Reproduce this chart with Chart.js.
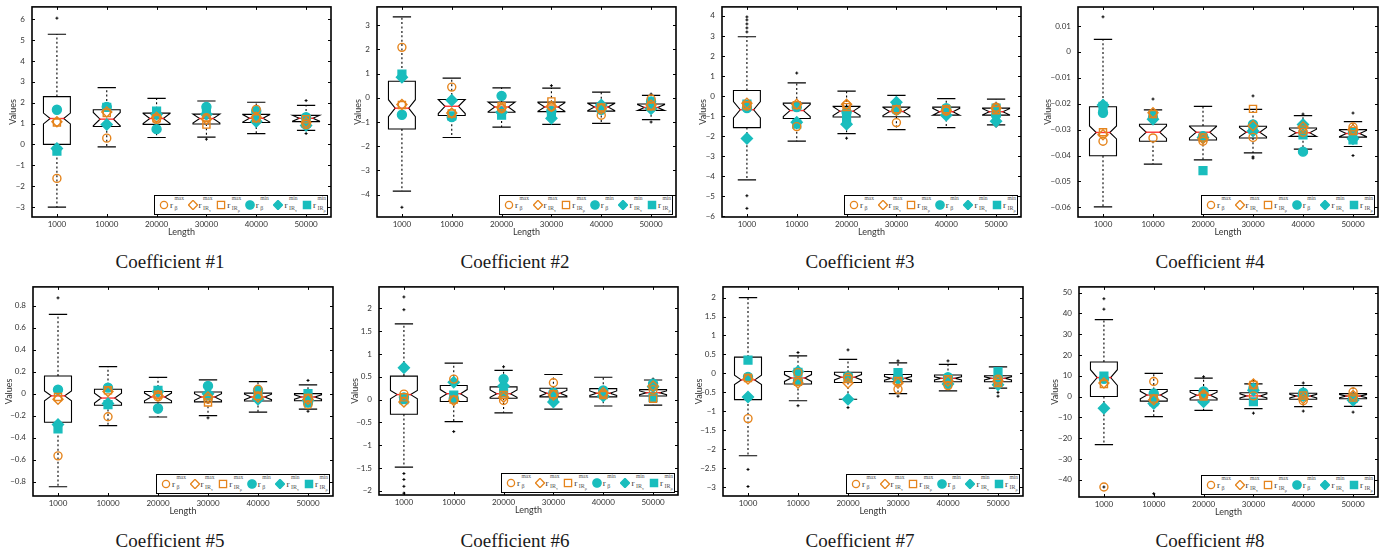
<!DOCTYPE html>
<html><head><meta charset="utf-8">
<script src="https://cdn.jsdelivr.net/npm/chart.js@4.4.1/dist/chart.umd.min.js"></script>
<style>
html,body{margin:0;padding:0;background:#fff;}
body{width:1385px;height:554px;position:relative;overflow:hidden;}
canvas{position:absolute;}
.title{position:absolute;transform:translate(-50%,-50%);font-family:'Liberation Serif','DejaVu Serif',serif;font-size:19px;color:#1a1a1a;white-space:nowrap;}
.legend{position:absolute;box-sizing:border-box;width:174px;height:20px;border:1.4px solid #000;background:#fff;}
.item{position:absolute;top:0;height:17px;}
.item svg{position:absolute;left:0;top:4px;}
.r{position:absolute;left:11px;top:3.5px;font-family:'Liberation Serif',serif;font-size:9px;color:#333;}
.sup{position:absolute;left:15.5px;top:-1px;font-family:'Liberation Serif',serif;font-size:5.5px;color:#555;}
.sub{position:absolute;left:15.5px;top:8.5px;font-family:'Liberation Serif',serif;font-size:6px;color:#555;white-space:nowrap;}
.sub i{font-style:normal;font-size:4.5px;position:relative;top:2.5px;}
</style></head><body>
<script>
// ---------------- data ----------------
const LENGTHS = ['1000','10000','20000','30000','40000','50000'];
const COEFFICIENTS = ['Coefficient #1','Coefficient #2','Coefficient #3','Coefficient #4','Coefficient #5','Coefficient #6','Coefficient #7','Coefficient #8'];

const Y_MIN = [-3.48, -4.92, -6.03, -0.0637, -0.93, -2.09, -3.23, -48.3];
const Y_MAX = [6.59, 3.75, 4.45, 0.0173, 0.97, 2.47, 2.28, 52.7];
const Y_TICKS = [
  [-3,-2,-1,0,1,2,3,4,5,6],
  [-4,-3,-2,-1,0,1,2,3],
  [-6,-5,-4,-3,-2,-1,0,1,2,3,4],
  [-0.06,-0.05,-0.04,-0.03,-0.02,-0.01,0,0.01],
  [-0.8,-0.6,-0.4,-0.2,0,0.2,0.4,0.6,0.8],
  [-2,-1.5,-1,-0.5,0,0.5,1,1.5,2],
  [-3,-2.5,-2,-1.5,-1,-0.5,0,0.5,1,1.5,2],
  [-40,-30,-20,-10,0,10,20,30,40,50]
];

const WHISKER_LOW = [
  [-3.01,-0.12,0.33,0.35,0.52,0.67],
  [-3.85,-1.64,-1.21,-1.10,-1.06,-0.90],
  [-4.18,-2.25,-1.87,-1.67,-1.57,-1.43],
  [-0.0598,-0.0433,-0.0417,-0.0390,-0.0375,-0.0365],
  [-0.846,-0.29,-0.212,-0.20,-0.168,-0.14],
  [-1.48,-0.48,-0.29,-0.21,-0.14,-0.12],
  [-2.17,-0.72,-0.68,-0.53,-0.46,-0.39],
  [-23.1,-9.7,-6.7,-5.8,-4.9,-4.7]
];
const Q1 = [
  [0.0,0.86,0.96,0.98,1.05,1.09],
  [-1.29,-0.73,-0.60,-0.57,-0.55,-0.52],
  [-1.57,-1.12,-1.04,-1.03,-0.95,-0.95],
  [-0.0401,-0.0345,-0.0340,-0.0332,-0.0326,-0.0329],
  [-0.26,-0.105,-0.083,-0.075,-0.067,-0.065],
  [-0.32,-0.04,0.03,0.06,0.06,0.08],
  [-0.69,-0.28,-0.24,-0.22,-0.22,-0.22],
  [0.0,-2.2,-1.7,-1.3,-1.3,-1.1]
];
const MEDIAN = [
  [1.24,1.21,1.24,1.24,1.25,1.25],
  [-0.43,-0.35,-0.38,-0.38,-0.38,-0.40],
  [-0.68,-0.72,-0.75,-0.77,-0.78,-0.78],
  [-0.0311,-0.0310,-0.0310,-0.0310,-0.0312,-0.0315],
  [-0.02,-0.04,-0.03,-0.03,-0.03,-0.03],
  [0.11,0.13,0.13,0.14,0.14,0.15],
  [-0.17,-0.12,-0.10,-0.13,-0.13,-0.13],
  [9.1,0.7,0.6,0.3,0.2,0.2]
];
const Q3 = [
  [2.29,1.66,1.50,1.45,1.44,1.39],
  [0.68,-0.07,-0.18,-0.18,-0.22,-0.26],
  [0.28,-0.35,-0.51,-0.55,-0.55,-0.60],
  [-0.0212,-0.0279,-0.0286,-0.0287,-0.0294,-0.0300],
  [0.16,0.04,0.02,0.015,0.005,0.0],
  [0.515,0.31,0.28,0.25,0.24,0.22],
  [0.43,0.05,0.03,-0.03,-0.04,-0.06],
  [16.6,3.4,2.9,1.8,1.6,1.4]
];
const WHISKER_HIGH = [
  [5.28,2.72,2.21,2.08,2.02,1.87],
  [3.34,0.81,0.41,0.40,0.23,0.10],
  [2.96,0.66,0.25,0.04,-0.13,-0.15],
  [0.0048,-0.0224,-0.0210,-0.0222,-0.0246,-0.0269],
  [0.72,0.245,0.148,0.125,0.11,0.08],
  [1.66,0.80,0.64,0.55,0.49,0.43],
  [2.00,0.46,0.37,0.28,0.24,0.17],
  [37.0,11.1,8.8,6.1,5.3,5.2]
];
const NOTCH = [
  [0.26,0.32,0.24,0.22,0.18,0.14],
  [0.35,0.30,0.20,0.18,0.15,0.12],
  [0.41,0.30,0.22,0.20,0.17,0.15],
  [0.0025,0.0024,0.0022,0.0018,0.0014,0.0012],
  [0.045,0.045,0.035,0.03,0.025,0.02],
  [0.09,0.09,0.08,0.06,0.05,0.04],
  [0.12,0.09,0.07,0.05,0.04,0.04],
  [3.8,1.8,1.5,1.0,0.9,0.8]
];
const OUTLIERS = [
  [[6.05],[],[],[0.25],[],[2.1,0.52]],
  [[-4.52],[],[],[0.5],[],[0.15,-1.0]],
  [[3.2,3.4,3.6,3.8,3.95,-4.97,-5.6],[1.15],[-2.1],[],[],[-1.5]],
  [[0.0135],[-0.0182],[],[-0.017,-0.0405,-0.041],[-0.024],[-0.0236,-0.040]],
  [[0.87],[],[],[-0.22],[],[0.12,-0.16]],
  [[1.97,2.25,-1.62,-1.75,-1.9,-2.05],[-0.7],[0.72],[],[],[0.45]],
  [[-2.53,-2.98],[0.55,-0.85],[0.62,-0.9],[0.33,-0.6],[0.33],[-0.5,-0.6]],
  [[42,47,-43.5],[-46.7],[9.5],[7.5,-8],[6.5,-7],[-7.5]]
];

// six marker series: r_beta^max, r_IRtau^max, r_IRrho^max, r_beta^min, r_IRtau^min, r_IRrho^min
const R_BETA_MAX = [
  [-1.63,0.30,1.20,1.28,1.68,0.95],
  [2.08,0.44,-0.45,-0.38,-0.72,-0.05],
  [-0.50,-1.52,-0.45,-1.32,-0.75,-0.55],
  [-0.0345,-0.0332,-0.0345,-0.0330,-0.0310,-0.0290],
  [-0.565,-0.21,-0.03,-0.05,0.04,-0.10],
  [0.12,0.45,-0.02,0.37,0.12,0.22],
  [-1.19,0.02,-0.10,-0.42,-0.32,-0.15],
  [-43.5,7.2,0.5,0.3,-2.0,2.2]
];
const R_IRTAU_MAX = [
  [1.08,1.55,1.30,1.20,1.30,1.05],
  [-0.28,-0.63,-0.40,-0.35,-0.45,-0.30],
  [-0.35,-0.40,-0.40,-0.70,-0.70,-0.60],
  [-0.0320,-0.0235,-0.0335,-0.0285,-0.0290,-0.0300],
  [-0.05,0.02,-0.02,-0.03,-0.03,-0.05],
  [-0.05,-0.02,0.05,0.10,0.15,0.30],
  [-0.15,-0.25,-0.25,-0.25,-0.20,-0.20],
  [6.5,-1.5,1.0,6.0,-1.0,0.5]
];
const R_IRRHO_MAX = [
  [1.05,1.50,1.25,0.95,1.25,1.20],
  [-0.30,-0.65,-0.35,-0.15,-0.40,-0.35],
  [-0.45,-0.45,-0.55,-0.65,-0.65,-0.70],
  [-0.0310,-0.0240,-0.0330,-0.0220,-0.0300,-0.0305],
  [-0.03,0.03,-0.01,-0.08,-0.02,-0.04],
  [0.05,0.00,0.10,0.12,0.10,0.02],
  [-0.12,-0.22,-0.15,-0.20,-0.15,-0.25],
  [6.0,-1.0,0.0,5.5,0.5,-0.5]
];
const R_BETA_MIN = [
  [1.66,1.80,0.73,1.80,1.60,1.30],
  [-0.70,-0.80,0.08,-0.55,-0.50,-0.15],
  [-0.60,-0.55,-0.80,-0.70,-0.60,-0.95],
  [-0.0235,-0.0255,-0.0325,-0.0280,-0.0385,-0.0310],
  [0.035,0.055,-0.135,0.07,0.03,-0.08],
  [0.05,0.02,0.45,0.15,0.20,0.35],
  [-0.09,-0.20,-0.08,-0.10,-0.10,-0.12],
  [8.5,1.5,2.5,4.0,1.8,-1.0]
];
const R_IRTAU_MIN = [
  [-0.20,0.95,1.45,1.45,1.10,0.90],
  [0.85,-0.10,-0.60,-0.85,-0.30,-0.45],
  [-2.12,-1.30,-1.40,-0.30,-0.95,-1.25],
  [-0.0205,-0.0260,-0.0330,-0.0305,-0.0280,-0.0335],
  [-0.28,-0.09,0.02,0.0,-0.05,-0.06],
  [0.70,0.38,0.30,-0.05,0.08,0.28],
  [-0.62,0.05,-0.68,-0.15,-0.28,-0.30],
  [-5.6,-3.3,-2.5,3.0,0.5,-1.8]
];
const R_IRRHO_MIN = [
  [-0.32,1.78,1.60,1.55,1.35,1.00],
  [0.98,-0.75,-0.72,-0.60,-0.40,-0.35],
  [-0.40,-1.40,-1.15,-0.50,-0.75,-0.60],
  [-0.0210,-0.0245,-0.0458,-0.0300,-0.0320,-0.0340],
  [-0.32,-0.10,0.03,-0.02,-0.01,0.0],
  [0.00,0.10,0.15,0.02,0.12,0.05],
  [0.35,0.03,-0.10,0.02,-0.15,0.05],
  [9.8,-2.5,1.5,-2.5,0.0,-0.8]
];

// ---------------- layout & style ----------------
const ORANGE = '#E5841C';
const CYAN = '#19BDBD';
const PANELS = [
  {col:0,row:0,w:345,plotL:32,plotR:331,plotT:6,plotB:217,valuesX:13.3,titleX:170,titleY:262},
  {col:345,row:0,w:345,plotL:377,plotR:676,plotT:6,plotB:217,valuesX:13.3,titleX:515,titleY:262},
  {col:690,row:0,w:345,plotL:722,plotR:1021,plotT:6,plotB:217,valuesX:13.3,titleX:860,titleY:262},
  {col:1035,row:0,w:350,plotL:1078,plotR:1378,plotT:7,plotB:217,valuesX:13.3,titleX:1210,titleY:262},
  {col:0,row:280,w:345,plotL:33,plotR:333,plotT:285,plotB:496,valuesX:9.3,titleX:170,titleY:541},
  {col:345,row:280,w:345,plotL:379,plotR:678,plotT:285,plotB:495,valuesX:10,titleX:515,titleY:541},
  {col:690,row:280,w:345,plotL:723,plotR:1023,plotT:285,plotB:496,valuesX:9.3,titleX:860,titleY:541},
  {col:1035,row:280,w:350,plotL:1079,plotR:1378,plotT:285,plotB:497,valuesX:20,titleX:1210,titleY:541}
];
const SERIES = [
  {label:'r_beta^max', src:R_BETA_MAX, style:'circle', fill:false, r:4},
  {label:'r_IRtau^max', src:R_IRTAU_MAX, style:'rectRot', fill:false, r:5},
  {label:'r_IRrho^max', src:R_IRRHO_MAX, style:'rect', fill:false, r:5},
  {label:'r_beta^min', src:R_BETA_MIN, style:'circle', fill:true, r:4.5},
  {label:'r_IRtau^min', src:R_IRTAU_MIN, style:'rectRot', fill:true, r:5.5},
  {label:'r_IRrho^min', src:R_IRRHO_MIN, style:'rect', fill:true, r:5.5}
];
const LEGEND_ITEMS = [
  {shape:'circle', fill:false, sup:'max', sub:'β', subsub:''},
  {shape:'diamond', fill:false, sup:'max', sub:'IR', subsub:'τ'},
  {shape:'square', fill:false, sup:'max', sub:'IR', subsub:'ρ'},
  {shape:'circle', fill:true, sup:'min', sub:'β', subsub:''},
  {shape:'diamond', fill:true, sup:'min', sub:'IR', subsub:'τ'},
  {shape:'square', fill:true, sup:'min', sub:'IR', subsub:'ρ'}
];

Chart.defaults.font.family = 'Lato, "DejaVu Sans", sans-serif';

const notchBoxPlugin = {
  id: 'notchBox',
  beforeDatasetsDraw(chart) {
    const k = chart.options.plugins.notchBox.k;
    const xs = chart.scales.x, ys = chart.scales.y, ctx = chart.ctx;
    const step = xs.getPixelForValue(1) - xs.getPixelForValue(0);
    const hw = step * 0.27, nw = hw * 0.5, cw = hw * 0.68;
    ctx.save();
    for (let i = 0; i < LENGTHS.length; i++) {
      const cx = xs.getPixelForValue(i);
      const q1 = Q1[k][i], q3 = Q3[k][i], med = MEDIAN[k][i];
      const pQ1 = ys.getPixelForValue(q1), pQ3 = ys.getPixelForValue(q3), pMed = ys.getPixelForValue(med);
      const pLo = ys.getPixelForValue(WHISKER_LOW[k][i]), pHi = ys.getPixelForValue(WHISKER_HIGH[k][i]);
      const pNHi = ys.getPixelForValue(Math.min(med + NOTCH[k][i], q3));
      const pNLo = ys.getPixelForValue(Math.max(med - NOTCH[k][i], q1));
      ctx.strokeStyle = '#000';
      ctx.lineWidth = 1.1;
      ctx.setLineDash([2, 2.4]);
      ctx.beginPath();
      ctx.moveTo(cx, pQ3); ctx.lineTo(cx, pHi);
      ctx.moveTo(cx, pQ1); ctx.lineTo(cx, pLo);
      ctx.stroke();
      ctx.setLineDash([]);
      ctx.lineWidth = 1.2;
      ctx.beginPath();
      ctx.moveTo(cx - cw, pHi); ctx.lineTo(cx + cw, pHi);
      ctx.moveTo(cx - cw, pLo); ctx.lineTo(cx + cw, pLo);
      ctx.stroke();
      ctx.lineWidth = 1.1;
      ctx.beginPath();
      ctx.moveTo(cx - hw, pQ3); ctx.lineTo(cx + hw, pQ3);
      ctx.lineTo(cx + hw, pNHi); ctx.lineTo(cx + nw, pMed); ctx.lineTo(cx + hw, pNLo);
      ctx.lineTo(cx + hw, pQ1); ctx.lineTo(cx - hw, pQ1);
      ctx.lineTo(cx - hw, pNLo); ctx.lineTo(cx - nw, pMed); ctx.lineTo(cx - hw, pNHi);
      ctx.closePath();
      ctx.stroke();
      ctx.strokeStyle = 'rgba(255,30,30,0.9)';
      ctx.lineWidth = 1.4;
      ctx.beginPath(); ctx.moveTo(cx - nw - 1, pMed); ctx.lineTo(cx + nw + 1, pMed); ctx.stroke();
      ctx.strokeStyle = '#000';
      ctx.lineWidth = 1;
      for (const v of OUTLIERS[k][i]) {
        const py = ys.getPixelForValue(v);
        ctx.beginPath();
        ctx.moveTo(cx - 1.5, py); ctx.lineTo(cx + 1.5, py);
        ctx.moveTo(cx, py - 1.5); ctx.lineTo(cx, py + 1.5);
        ctx.stroke();
      }
    }
    ctx.restore();
  },
  afterDraw(chart) {
    const ctx = chart.ctx, a = chart.chartArea, xs = chart.scales.x, ys = chart.scales.y;
    ctx.save();
    ctx.strokeStyle = '#000';
    ctx.lineWidth = 1;
    ctx.beginPath();
    for (const t of ys.ticks) {
      const py = Math.round(ys.getPixelForValue(t.value)) + 0.5;
      ctx.moveTo(a.left, py); ctx.lineTo(a.left + 3, py);
      ctx.moveTo(a.right, py); ctx.lineTo(a.right - 3, py);
    }
    for (let i = 0; i < LENGTHS.length; i++) {
      const px = Math.round(xs.getPixelForValue(i)) + 0.5;
      ctx.moveTo(px, a.bottom); ctx.lineTo(px, a.bottom - 3);
      ctx.moveTo(px, a.top); ctx.lineTo(px, a.top + 3);
    }
    ctx.stroke();
    ctx.lineWidth = 1.6;
    ctx.strokeRect(a.left, a.top, a.right - a.left, a.bottom - a.top);
    ctx.restore();
  }
};

function fmt(v) {
  if (Math.abs(v) < 1e-12) return '0';
  return String(+v.toFixed(4)).replace('-', '\u2212');
}

function markerSvg(shape, fill) {
  const col = fill ? CYAN : ORANGE;
  const f = fill ? CYAN : 'none';
  let s = '';
  if (shape === 'circle') s = `<circle cx="5" cy="5" r="${fill ? 4.2 : 3.6}" fill="${f}" stroke="${col}" stroke-width="1.3"/>`;
  if (shape === 'diamond') s = `<polygon points="5,0.3 9.5,5 5,9.7 0.5,5" fill="${f}" stroke="${col}" stroke-width="1.3"/>`;
  if (shape === 'square') s = `<rect x="1.4" y="1.4" width="7.2" height="7.2" fill="${f}" stroke="${col}" stroke-width="1.3"/>`;
  return `<svg width="10" height="10" viewBox="0 0 10 10">${s}</svg>`;
}

PANELS.forEach((p, k) => {
  const cv = document.createElement('canvas');
  const h = p.plotB - p.row + 28;
  cv.width = p.w; cv.height = h;
  cv.style.left = p.col + 'px'; cv.style.top = p.row + 'px';
  cv.style.width = p.w + 'px'; cv.style.height = h + 'px';
  document.body.appendChild(cv);

  const yW = p.plotL - p.col;
  const xH = h - (p.plotB - p.row);
  new Chart(cv, {
    type: 'line',
    data: {
      labels: LENGTHS,
      datasets: SERIES.map(s => ({
        label: s.label,
        data: s.src[k],
        showLine: false,
        pointStyle: s.style,
        pointRadius: s.r,
        pointHoverRadius: s.r,
        pointBorderWidth: 1.4,
        pointBorderColor: s.fill ? CYAN : ORANGE,
        pointBackgroundColor: s.fill ? CYAN : 'rgba(0,0,0,0)',
        clip: false
      }))
    },
    options: {
      responsive: false,
      animation: false,
      devicePixelRatio: 1,
      events: [],
      layout: {padding: {left: 0, top: p.plotT - p.row, right: p.col + p.w - p.plotR, bottom: 0}},
      plugins: {legend: {display: false}, tooltip: {enabled: false}, notchBox: {k: k}},
      scales: {
        x: {
          type: 'category',
          offset: true,
          grid: {display: false, drawTicks: false},
          border: {display: false},
          ticks: {color: '#333', font: {size: 8}, padding: 3, maxRotation: 0, autoSkip: false},
          title: {display: true, text: 'Length', color: '#333', font: {size: 9}, padding: {top: 0, bottom: 8}},
          afterFit(s) { s.height = xH; s.paddingLeft = 0; s.paddingRight = 0; }
        },
        y: {
          min: Y_MIN[k], max: Y_MAX[k],
          grid: {display: false, drawTicks: false},
          border: {display: false},
          afterBuildTicks(s) { s.ticks = Y_TICKS[k].map(v => ({value: v})); },
          ticks: {color: '#333', font: {size: 8}, padding: 7, autoSkip: false, callback: (v) => fmt(v)},
          title: {display: true, text: 'Values', color: '#333', font: {size: 9}, padding: {top: p.valuesX - 5.4, bottom: 0}},
          afterFit(s) { s.width = yW; s.paddingTop = 0; s.paddingBottom = 0; }
        }
      }
    },
    plugins: [notchBoxPlugin]
  });

  const lg = document.createElement('div');
  lg.className = 'legend';
  lg.style.left = (p.plotR - 3 - 174) + 'px';
  lg.style.top = (p.plotB - 2 - 20) + 'px';
  LEGEND_ITEMS.forEach((it, j) => {
    const d = document.createElement('div');
    d.className = 'item';
    d.style.left = (4 + 28.6 * j) + 'px';
    d.innerHTML = markerSvg(it.shape, it.fill) +
      '<span class="r">r</span><span class="sup">' + it.sup + '</span>' +
      '<span class="sub">' + it.sub + (it.subsub ? '<i>' + it.subsub + '</i>' : '') + '</span>';
    lg.appendChild(d);
  });
  document.body.appendChild(lg);

  const t = document.createElement('div');
  t.className = 'title';
  t.style.left = p.titleX + 'px';
  t.style.top = p.titleY + 'px';
  t.textContent = COEFFICIENTS[k];
  document.body.appendChild(t);
});
</script>
</body></html>
